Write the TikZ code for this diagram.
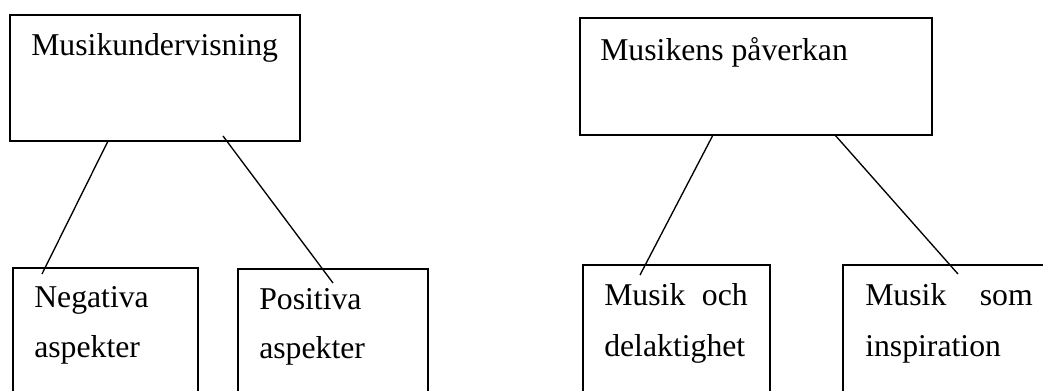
\documentclass[tikz,border=0pt]{standalone}
\usepackage{fontspec}
\setmainfont{Liberation Serif}
\usetikzlibrary{calc}
\begin{document}
\begin{tikzpicture}[x=0.75pt,y=-0.75pt,
  box/.style={draw,line width=0.9pt,anchor=north west,inner sep=0pt,outer sep=0pt},
  lbl/.style={anchor=base west,inner sep=0pt,font=\fontsize{23.8}{28}\selectfont},
  lblr/.style={anchor=base east,inner sep=0pt,font=\fontsize{23.8}{28}\selectfont},
  conn/.style={line width=1pt}]
\useasboundingbox (0,0) rectangle (1043,390);
\clip (0,0) rectangle (1043,390);
% top boxes
\node[box,minimum width=217.5pt,minimum height=94.5pt] (b1) at (10,15) {};
\node[box,minimum width=264pt,minimum height=87.75pt] (b2) at (580,18) {};
% bottom boxes (cut by the lower edge)
\node[box,minimum width=138.75pt,minimum height=99pt] (n1) at (13,268) {};
\node[box,minimum width=142.5pt,minimum height=98.25pt] (p1) at (238,269) {};
\node[box,minimum width=140.25pt,minimum height=101.25pt] (d1) at (583,265) {};
\node[box,minimum width=170pt,minimum height=101.25pt] (i1) at (843,265) {};
% texts
\node[lbl] (t1) at (31,55) {Musikundervisning};
\node[lbl] (t2) at (600,60) {Musikens påverkan};
\node[lbl] (t3a) at (34,307) {Negativa};
\node[lbl] (t3b) at (34,357) {aspekter};
\node[lbl] (t4a) at (259,309) {Positiva};
\node[lbl] (t4b) at (259,358) {aspekter};
\node[lbl] (t5a) at (604,305) {Musik};
\node[lblr] (t5b) at (748,305) {och};
\node[lbl] (t5c) at (604,356) {delaktighet};
\node[lbl] (t6a) at (865,305) {Musik};
\node[lblr] (t6b) at (1033,305) {som};
\node[lbl] (t6c) at (865,356) {inspiration};
% connector end points inside the lower boxes
\coordinate (e1) at (42,274);
\coordinate (e2) at (333,283);
\coordinate (e3) at (640,275);
\coordinate (e4) at (958,274);
\draw[conn] ($(b1.south west)+(98,0)$) -- (e1);
\draw[conn] ($(b1.south west)+(213,-5)$) -- (e2);
\draw[conn] ($(b2.south west)+(133,0)$) -- (e3);
\draw[conn] ($(b2.south west)+(255,0)$) -- (e4);
\end{tikzpicture}
\end{document}
